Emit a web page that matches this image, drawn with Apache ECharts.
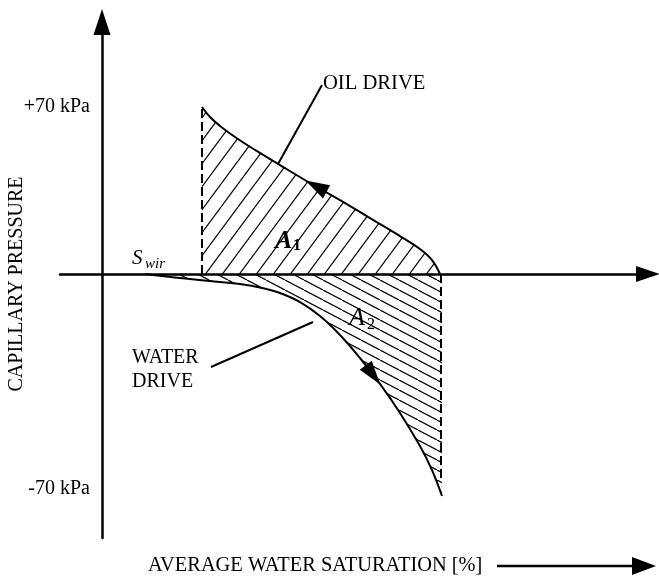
<!DOCTYPE html>
<html>
<head>
<meta charset="utf-8">
<script src="https://cdn.jsdelivr.net/npm/echarts@6/dist/echarts.min.js"></script>
<style>
html,body{margin:0;padding:0;background:#fff;}
#chart{width:659px;height:579px;}
</style>
</head>
<body>
<div id="chart"></div>
<script>
// ---- data (schematic units: x = water saturation, y = capillary pressure) ----
const oilX = [25, 27, 29.5, 33.25, 38.25, 44.5, 52, 59.5, 67, 74.5, 79.5, 82.5, 84.5];
const oilY = [69.6, 65.4, 61.7, 57.1, 51.7, 45.4, 37.9, 30.8, 23.3, 15.8, 10.4, 5.8, 0];
const waterX = [10.75, 19.5, 27, 34.5, 40, 44.5, 49.5, 54.5, 59.5, 64.5, 69.5, 74.5, 79.5, 82.5, 85];
const waterY = [0, -1.7, -2.9, -4.2, -5.8, -7.9, -11.7, -17.5, -25.4, -35, -45.8, -57.9, -71.7, -81.7, -92.5];
const oilStartX = 25, oilStartY = 69.6;
const endX = 84.75, endY = -86;
const oilArrow = [53.5, 36.6];
const waterArrow = [67.75, -42];
const oilLeader = [[44, 45.8], [55, 78.75]];
const waterLeader = [[27.25, -38.75], [52.75, -20]];
const yTickLabels = ['+70 kPa', '-70 kPa'];
const xAxisTitle = 'AVERAGE WATER SATURATION [%]';
const yAxisTitle = 'CAPILLARY PRESSURE';

function zip(a, b) { return a.map((v, i) => [v, b[i]]); }

function hatch(w, h, dir) {
  const c = document.createElement('canvas');
  c.width = w; c.height = h;
  const ctx = c.getContext('2d');
  ctx.strokeStyle = '#000';
  ctx.lineWidth = 1.2;
  for (let k = -1; k <= 1; k++) {
    ctx.beginPath();
    if (dir === '/') { ctx.moveTo(k * w, h); ctx.lineTo((k + 1) * w, 0); }
    else { ctx.moveTo(k * w, 0); ctx.lineTo((k + 1) * w, h); }
    ctx.stroke();
  }
  return c;
}
const pat1 = { image: hatch(17, 23, '/'), repeat: 'repeat' };
const pat2 = { image: hatch(19, 10, '\\'), repeat: 'repeat' };

const FONT = '"Liberation Serif", "Times New Roman", serif';
const chart = echarts.init(document.getElementById('chart'), null, { renderer: 'canvas' });

const black = '#000';
const option = {
  animation: false,
  backgroundColor: '#fff',
  grid: { left: 60, top: 22, width: 588, height: 516 },
  xAxis: {
    type: 'value', min: -10.5, max: 136.5,
    axisLine: { onZero: true, symbol: ['none', 'triangle'], symbolSize: [16, 24], lineStyle: { color: black, width: 2.5 } },
    axisTick: { show: false }, axisLabel: { show: false }, splitLine: { show: false }
  },
  yAxis: {
    type: 'value', min: -110, max: 105,
    axisLine: { onZero: true, symbol: ['none', 'triangle'], symbolSize: [17, 26], lineStyle: { color: black, width: 2.5 } },
    axisTick: { show: false }, axisLabel: { show: false }, splitLine: { show: false }
  },
  series: [
    { type: 'line', data: zip(oilX, oilY), smooth: 0.4, showSymbol: false, z: 3,
      lineStyle: { color: black, width: 2 }, areaStyle: { color: pat1, opacity: 1, origin: 0 } },
    { type: 'line', data: zip(waterX, waterY), smooth: 0.4, showSymbol: false, z: 3,
      lineStyle: { color: black, width: 2 }, areaStyle: { color: pat2, opacity: 1, origin: 0 } },
    { type: 'line', data: [[oilStartX, 0], [oilStartX, oilStartY]], showSymbol: false, z: 4,
      lineStyle: { color: black, width: 2, type: [9, 4] } },
    { type: 'line', data: [[endX, 0], [endX, endY]], showSymbol: false, z: 4,
      lineStyle: { color: black, width: 2, type: [9, 4] } },
    { type: 'line', data: oilLeader, showSymbol: false, z: 4, lineStyle: { color: black, width: 2 } },
    { type: 'line', data: waterLeader, showSymbol: false, z: 4, lineStyle: { color: black, width: 2 } },
    { type: 'scatter', data: [oilArrow], symbol: 'triangle', symbolSize: [15, 24], symbolRotate: 62, z: 5,
      itemStyle: { color: black, opacity: 1 } },
    { type: 'scatter', data: [waterArrow], symbol: 'triangle', symbolSize: [15, 24], symbolRotate: 217, z: 5,
      itemStyle: { color: black, opacity: 1 } }
  ],
  graphic: [
    { type: 'text', x: 90, y: 107, style: { text: yTickLabels[0], font: '20px ' + FONT, fill: black, align: 'right', verticalAlign: 'middle' } },
    { type: 'text', x: 90, y: 489, style: { text: yTickLabels[1], font: '20px ' + FONT, fill: black, align: 'right', verticalAlign: 'middle' } },
    { type: 'text', x: 17, y: 284, rotation: Math.PI / 2, style: { text: yAxisTitle, font: '20px ' + FONT, fill: black, align: 'center', verticalAlign: 'middle' } },
    { type: 'text', x: 148, y: 566, style: { text: xAxisTitle, font: '20.4px ' + FONT, fill: black, align: 'left', verticalAlign: 'middle' } },
    { type: 'line', shape: { x1: 497, y1: 566, x2: 636, y2: 566 }, style: { stroke: black, lineWidth: 2.5 } },
    { type: 'polygon', shape: { points: [[632, 557], [656, 566], [632, 575]] }, style: { fill: black } },
    { type: 'text', x: 323, y: 84, style: { text: 'OIL DRIVE', font: '20.6px ' + FONT, fill: black, align: 'left', verticalAlign: 'middle' } },
    { type: 'text', x: 132, y: 358, style: { text: 'WATER', font: '20px ' + FONT, fill: black, align: 'left', verticalAlign: 'middle' } },
    { type: 'text', x: 132, y: 382, style: { text: 'DRIVE', font: '20px ' + FONT, fill: black, align: 'left', verticalAlign: 'middle' } },
    { type: 'text', x: 132, y: 258, style: { text: 'S', font: 'italic 21px ' + FONT, fill: black, align: 'left', verticalAlign: 'middle' } },
    { type: 'text', x: 145, y: 264, style: { text: 'wir', font: 'italic 15px ' + FONT, fill: black, align: 'left', verticalAlign: 'middle' } },
    { type: 'text', x: 275, y: 241, z: 10, style: { text: 'A', font: 'italic bold 26px ' + FONT, fill: black, align: 'left', verticalAlign: 'middle' } },
    { type: 'text', x: 293, y: 246, z: 10, style: { text: '1', font: 'bold 16px ' + FONT, fill: black, align: 'left', verticalAlign: 'middle' } },
    { type: 'text', x: 349, y: 318, z: 10, style: { text: 'A', font: 'italic 26px ' + FONT, fill: black, align: 'left', verticalAlign: 'middle' } },
    { type: 'text', x: 367, y: 325, z: 10, style: { text: '2', font: '16px ' + FONT, fill: black, align: 'left', verticalAlign: 'middle' } }
  ]
};
chart.setOption(option);
</script>
</body>
</html>
